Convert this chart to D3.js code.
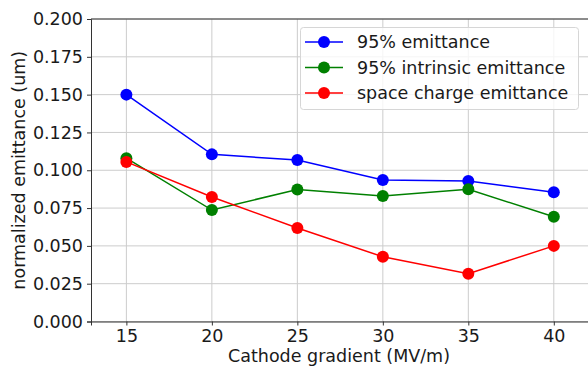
<!DOCTYPE html>
<html>
<head>
<meta charset="utf-8">
<script src="https://cdn.jsdelivr.net/npm/d3@7"></script>
<style>
  body { margin: 0; background: #fff; }
  text { font-family: "DejaVu Sans", sans-serif; fill: #1a1a1a; }
</style>
</head>
<body>
<div id="chart"></div>
<script>
const gradients = [15, 20, 25, 30, 35, 40];
const emittance95 = [0.150, 0.1105, 0.1068, 0.0935, 0.0929, 0.0855];
const intrinsic95 = [0.108, 0.0737, 0.0873, 0.0830, 0.0874, 0.0692];
const spaceCharge = [0.1055, 0.0823, 0.0618, 0.0428, 0.0316, 0.0500];
const xTicks = [15, 20, 25, 30, 35, 40];
const yTicks = [0, 0.025, 0.05, 0.075, 0.1, 0.125, 0.15, 0.175, 0.2];

const series = [
  { name: '95% emittance', values: emittance95, color: '#0000ff' },
  { name: '95% intrinsic emittance', values: intrinsic95, color: '#008000' },
  { name: 'space charge emittance', values: spaceCharge, color: '#ff0000' }
];

const width = 588, height = 366;
const mLeft = 91, mRight = 588, mTop = 19, mBottom = 321.5;
const fs = 17.5;

const svg = d3.select('#chart').append('svg')
  .attr('width', width).attr('height', height);

const x = d3.scaleLinear().domain([12.93, 42]).range([mLeft, mRight]);
const y = d3.scaleLinear().domain([0, 0.2]).range([mBottom, mTop]);

// grid
const grid = svg.append('g').attr('stroke', '#cccccc').attr('stroke-width', 1);
xTicks.forEach(t => grid.append('line')
  .attr('x1', x(t)).attr('x2', x(t)).attr('y1', mTop).attr('y2', mBottom));
yTicks.forEach(t => grid.append('line')
  .attr('x1', mLeft).attr('x2', mRight).attr('y1', y(t)).attr('y2', y(t)));

// axes
const xAxis = svg.append('g').attr('transform', `translate(0,${mBottom})`)
  .call(d3.axisBottom(x).tickValues(xTicks).tickSize(4).tickPadding(4));
const yAxis = svg.append('g').attr('transform', `translate(${mLeft},0)`)
  .call(d3.axisLeft(y).tickValues(yTicks).tickFormat(d3.format('.3f')).tickSize(4).tickPadding(4));
[xAxis, yAxis].forEach(a => {
  a.selectAll('text').attr('font-size', fs).attr('font-family', 'DejaVu Sans').attr('fill', '#1a1a1a');
  a.selectAll('line').attr('stroke', '#333');
  a.select('.domain').attr('stroke', '#333');
});
// top spine (right one is cut off)
svg.append('line').attr('x1', mLeft).attr('x2', mRight).attr('y1', mTop).attr('y2', mTop).attr('stroke', '#333');

// lines & markers
const line = d3.line().x((d, i) => x(gradients[i])).y(d => y(d));
series.forEach(s => {
  svg.append('path').datum(s.values)
    .attr('d', line).attr('fill', 'none')
    .attr('stroke', s.color).attr('stroke-width', 1.5);
  svg.selectAll(null).data(s.values).enter().append('circle')
    .attr('cx', (d, i) => x(gradients[i])).attr('cy', d => y(d))
    .attr('r', 6).attr('fill', s.color);
});

// legend
const lg = svg.append('g');
lg.append('rect').attr('x', 300.5).attr('y', 27.5).attr('width', 278).attr('height', 82)
  .attr('rx', 3).attr('fill', '#fff').attr('fill-opacity', 0.8).attr('stroke', '#d6d6d6');
series.forEach((s, i) => {
  const yy = 42 + i * 25.5;
  lg.append('line').attr('x1', 305).attr('x2', 343).attr('y1', yy).attr('y2', yy)
    .attr('stroke', s.color).attr('stroke-width', 1.5);
  lg.append('circle').attr('cx', 324).attr('cy', yy).attr('r', 6).attr('fill', s.color);
  lg.append('text').attr('x', 357).attr('y', yy).attr('dy', '0.35em')
    .attr('font-size', fs).text(s.name);
});

// axis labels
svg.append('text').attr('x', 339).attr('y', 362).attr('text-anchor', 'middle')
  .attr('font-size', fs).text('Cathode gradient (MV/m)');
svg.append('text').attr('transform', `translate(25,${(mTop + mBottom) / 2}) rotate(-90)`)
  .attr('text-anchor', 'middle').attr('font-size', fs).text('normalized emittance (um)');
</script>
</body>
</html>
